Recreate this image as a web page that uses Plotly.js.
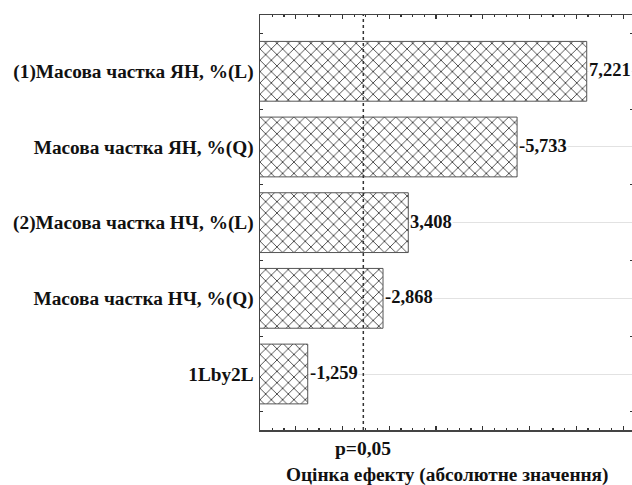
<!DOCTYPE html>
<html>
<head>
<meta charset="utf-8">
<script src="https://cdn.plot.ly/plotly-3.0.1.min.js"></script>
<style>
html,body{margin:0;padding:0;overflow:hidden;background:#fff;width:632px;height:485px;}
#chart{width:640px;height:485px;}
</style>
</head>
<body>
<div id="chart"></div>
<script>
var categories = [
  "(1)Масова частка ЯН, %(L)",
  "Масова частка ЯН, %(Q)",
  "(2)Масова частка НЧ, %(L)",
  "Масова частка НЧ, %(Q)",
  "1Lby2L"
];
var effects = [7.221, 5.733, 3.408, 2.868, 1.259];
var effectLabels = ["7,221", "-5,733", "3,408", "-2,868", "-1,259"];
var pValue = 2.447;
var pLabel = "p=0,05";
var xTitle = "Оцінка ефекту (абсолютне значення)";

var idx = categories.map(function(c, i){ return i; });
var bounds = [-0.5, 0.5, 1.5, 2.5, 3.5, 4.5];
var serif = "'Liberation Serif', 'DejaVu Serif', serif";

var trace = {
  type: "bar",
  orientation: "h",
  x: effects,
  y: idx,
  width: 0.79,
  marker: {
    color: "#ffffff",
    line: {color: "#555555", width: 1},
    pattern: {shape: "x", size: 8, solidity: 0.2, fgcolor: "#333333", bgcolor: "#ffffff", fillmode: "replace"}
  },
  hoverinfo: "none"
};

var annotations = effects.map(function(v, i){
  return {
    x: v, y: i, xref: "x", yref: "y",
    text: effectLabels[i], showarrow: false,
    xanchor: "left", yanchor: "middle", xshift: 1, yshift: 1,
    bgcolor: "#ffffff", borderpad: 0,
    font: {family: serif, size: 18.5, color: "#111", weight: "bold"}
  };
});
annotations.push({
  x: pValue, xref: "x", y: -0.044, yref: "paper",
  text: pLabel, showarrow: false, xanchor: "center", yanchor: "middle",
  font: {family: serif, size: 19.5, color: "#111", weight: "bold"}
});
annotations.push({
  x: 0.5, xref: "paper", y: -0.109, yref: "paper",
  text: xTitle, showarrow: false, xanchor: "center", yanchor: "middle",
  font: {family: serif, size: 19.3, color: "#111", weight: "bold"}
});

var layout = {
  width: 640, height: 485,
  margin: {l: 260, r: 7, t: 15, b: 55, pad: 0},
  paper_bgcolor: "#ffffff", plot_bgcolor: "#ffffff",
  showlegend: false,
  xaxis: {
    range: [0.239, 8.21],
    showline: true, linecolor: "#444", linewidth: 1.5, mirror: "ticks",
    ticks: "inside", tick0: 0, dtick: 1, ticklen: 4, tickcolor: "#333", tickwidth: 1.2,
    minor: {dtick: 0.25, tick0: 0, ticks: "inside", ticklen: 2, tickcolor: "#333", tickwidth: 1.2, showgrid: false},
    showticklabels: false, showgrid: false, zeroline: false, fixedrange: true
  },
  yaxis: {
    range: [4.74, -0.744],
    tickmode: "array", tickvals: idx, ticktext: categories,
    ticks: "", showline: true, linecolor: "#444", linewidth: 1.5, mirror: "ticks",
    showgrid: true, gridcolor: "#e2e2e2", gridwidth: 1, zeroline: false,
    minor: {tickmode: "array", tickvals: bounds, ticks: "inside", ticklen: 3, tickcolor: "#333", tickwidth: 1.2, showgrid: false},
    ticklabelstandoff: 1,
    tickfont: {family: serif, size: 19.3, color: "#111", weight: "bold"},
    fixedrange: true
  },
  shapes: [{
    type: "line", xref: "x", yref: "paper",
    x0: pValue, x1: pValue, y0: 0, y1: 1,
    line: {color: "#333", width: 1.5, dash: "dot"}
  }],
  annotations: annotations
};

Plotly.newPlot("chart", [trace], layout, {displayModeBar: false, staticPlot: true});
</script>
</body>
</html>
